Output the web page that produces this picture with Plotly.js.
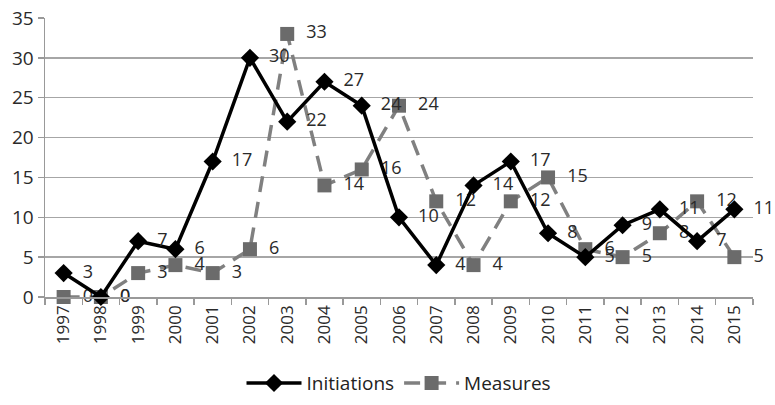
<!DOCTYPE html>
<html>
<head>
<meta charset="utf-8">
<script src="https://cdn.plot.ly/plotly-3.0.1.min.js"></script>
<style>html,body{margin:0;padding:0;background:#fff;}#chart{width:775px;height:405px;}</style>
</head>
<body>
<div id="chart"></div>
<script>
const years = ["1997","1998","1999","2000","2001","2002","2003","2004","2005","2006","2007","2008","2009","2010","2011","2012","2013","2014","2015"];
const initiations = [3,0,7,6,17,30,22,27,24,10,4,14,17,8,5,9,11,7,11];
const measures = [0,0,3,4,3,6,33,14,16,24,12,4,12,15,6,5,8,12,5];
const yTicks = [0,5,10,15,20,25,30,35];

const font = "Open Sans, Noto Sans, sans-serif";
const pad = "\u00a0\u00a0";
const traces = [
  {
    x: years, y: measures, name: "Measures", type: "scatter", mode: "lines+markers+text",
    line: {color: "#808080", width: 3.5, dash: "16px,10px"},
    marker: {symbol: "square", size: 14, color: "#6b6b6b"},
    text: measures.map(v => pad + v), textposition: "middle right",
    textfont: {family: font, size: 18, color: "#2a2a2a"}, cliponaxis: false
  },
  {
    x: years, y: initiations, name: "Initiations", type: "scatter", mode: "lines+markers+text",
    line: {color: "#000", width: 3.5},
    marker: {symbol: "diamond", size: 14, color: "#000"},
    text: initiations.map(v => pad + v), textposition: "middle right",
    textfont: {family: font, size: 18, color: "#2a2a2a"}, cliponaxis: false
  }
];
const layout = {
  width: 775, height: 405,
  margin: {l: 45, r: 22, t: 18, b: 108, autoexpand: false},
  paper_bgcolor: "#fff", plot_bgcolor: "#fff",
  font: {family: font, size: 16, color: "#2a2a2a"},
  showlegend: true,
  legend: {orientation: "h", x: 0.5, xanchor: "center", yref: "container", y: 0.054, yanchor: "middle", traceorder: "reversed",
           itemwidth: 55, font: {size: 19, color: "#222"}},
  xaxis: {
    type: "category", range: [-0.5, 18.5], tickangle: -90, automargin: false,
    showgrid: false, showline: true, linecolor: "#999", linewidth: 1.5,
    ticks: "outside", tickson: "boundaries", ticklen: 6, tickcolor: "#999", tickwidth: 1.5,
    tickfont: {size: 17, color: "#2a2a2a"}
  },
  yaxis: {
    range: [0, 35], tickvals: yTicks, ticktext: yTicks.map(String), automargin: false,
    showgrid: true, gridcolor: "#a6a6a6", gridwidth: 1.5,
    showline: true, linecolor: "#999", linewidth: 1.5,
    ticks: "outside", ticklen: 6, tickcolor: "#999", tickwidth: 1.5,
    zeroline: false, tickfont: {size: 19, color: "#2a2a2a"}
  }
};
Plotly.newPlot("chart", traces, layout, {displayModeBar: false, staticPlot: true});
</script>
</body>
</html>
